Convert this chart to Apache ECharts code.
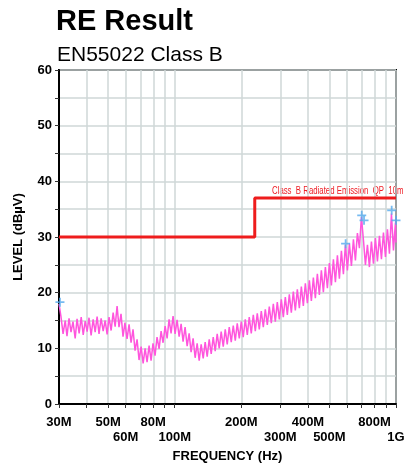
<!DOCTYPE html>
<html>
<head>
<meta charset="utf-8">
<script src="https://cdn.jsdelivr.net/npm/echarts@6/dist/echarts.min.js"></script>
<style>
  html, body { margin: 0; padding: 0; background: #fff; }
  #chart { width: 409px; height: 470px; }
</style>
</head>
<body>
<div id="chart"></div>
<script>
// frequencies in MHz, levels in dBuV
const traceFreq = [30, 30.6, 31.3, 32, 32.6, 33.3, 34, 34.7, 35.5, 36.2, 37, 37.8, 38.6, 39.4, 40.2, 41, 41.9, 42.8, 43.7, 44.6, 45.5, 46.5, 47.5, 48.5, 49.5,
  50.5, 51.6, 52.7, 53.8, 54.9, 56, 57.2, 58.4, 59.6, 60.9, 62.2, 63.5, 64.8, 66.2, 67.6, 69, 70.5, 72, 73.5, 75, 76.6, 78.2, 79.8, 81.5, 83.2, 85,
  86.8, 88.6, 90.5, 92.4, 94.3, 96.3, 98.3, 100.4, 102.5, 104.7, 106.9, 109.1, 111.4, 113.8, 116.2, 118.6, 121.1, 123.7, 126.3, 129, 131.7, 134.5,
  137.3, 140.2, 143.2, 146.2, 149.3, 152.4, 155.6, 158.9, 162.2, 165.7, 169.2, 172.7, 176.4, 180.1, 183.9, 187.8, 191.7, 195.8, 199.9, 204, 208.4,
  212.8, 217.2, 221.8, 226.5, 231.3, 236.1, 241.1, 246.2, 251.4, 256.7, 262.1, 267.6, 273.2, 279, 284.8, 290.8, 297, 303.2, 309.6, 316.1, 322.8,
  329.6, 336.5, 343.6, 350.8, 358.2, 365.8, 373.5, 381.3, 389.4, 397.6, 406, 414.5, 423.2, 432.1, 441.2, 450.5, 460, 469.7, 479.6, 489.7, 500,
  510.5, 521.3, 532.3, 543.5, 554.9, 566.6, 578.5, 590.7, 603.1, 615.8, 628.8, 642, 655.5, 669.3, 683.4, 697.8, 712.5, 727.5, 742.8, 758.4, 774.4,
  790.7, 807.3, 824.3, 841.7, 859.4, 877.5, 896, 914.8, 934.1, 953.7, 973.8, 994.3, 1000];
const traceLevel = [18.0, 15.8, 12.6, 15.0, 12.2, 15.4, 12.9, 14.8, 11.8, 15.3, 12.7, 15.6, 12.4, 14.9, 13.0, 15.5, 12.3, 15.2, 12.9, 15.7, 12.6, 15.4, 13.1, 15.0, 12.5,
  15.6, 13.2, 16.4, 13.9, 17.6, 13.8, 16.2, 12.1, 14.6, 11.7, 14.3, 11.0, 13.4, 9.6, 11.6, 7.9, 10.3, 7.3, 10.0, 7.5, 10.5, 7.8, 10.9, 8.7, 12.0, 9.9,
  13.1, 11.0, 14.0, 11.8, 15.2, 12.7, 15.8, 12.6, 15.1, 12.1, 14.4, 11.2, 13.8, 10.4, 12.7, 9.3, 11.8, 8.3, 10.9, 7.8, 10.7, 8.2,
  11.1, 8.5, 11.6, 9.0, 12.0, 9.5, 12.6, 10.0, 13.0, 10.3, 13.4, 10.7, 13.8, 11.1, 14.1, 11.4, 14.5, 11.8, 14.8, 12.0, 15.2,
  12.4, 15.6, 12.7, 16.0, 13.1, 16.3, 13.4, 16.7, 13.8, 17.0, 14.2, 17.5, 14.5, 18.0, 14.8, 18.3, 15.2, 18.8, 15.6, 19.2, 16.0,
  19.7, 16.4, 20.2, 16.8, 20.6, 17.2, 21.1, 17.6, 21.7, 18.1, 22.2, 18.5, 22.7, 19.0, 23.4, 19.6, 24.0, 20.1, 24.6, 20.8, 25.3,
  21.3, 26.0, 21.9, 26.7, 22.5, 27.5, 23.3, 28.6, 24.0, 28.8, 24.8, 29.6, 25.8, 30.7, 28.0, 33.6, 29.5, 25.0, 28.6, 24.6, 29.2,
  25.2, 29.8, 25.6, 30.2, 26.0, 30.8, 26.4, 31.4, 27.0, 34.2, 27.6, 32.6, 29.0];

const limitFreq = [30, 230, 230, 1000];
const limitLevel = [30, 30, 37, 37];

const peakFreq = [30.3, 592, 700, 717, 956, 1000];
const peakLevel = [18.3, 28.8, 33.9, 33.0, 34.8, 33.0];

const gridFreq = [30, 40, 50, 60, 70, 80, 90, 100, 200, 300, 400, 500, 600, 700, 800, 900, 1000];
const labelsTop = { 30: '30M', 50: '50M', 80: '80M', 200: '200M', 400: '400M', 800: '800M' };
const labelsBottom = { 60: '60M', 100: '100M', 300: '300M', 500: '500M', 1000: '1G' };

const lg = v => Math.log10(v);
const toPairs = (xs, ys) => xs.map((f, i) => [lg(f), ys[i]]);
const labelFreq = Object.keys(labelsTop).concat(Object.keys(labelsBottom)).map(Number);

const chart = echarts.init(document.getElementById('chart'));
chart.setOption({
  animation: false,
  backgroundColor: '#fff',
  textStyle: { fontFamily: 'Liberation Sans, Arial, sans-serif' },
  title: [
    { text: 'RE Result', left: 51, top: 2, textStyle: { fontSize: 29, fontWeight: 'bold', color: '#000' } },
    { text: 'EN55022 Class B', left: 52, top: 40, textStyle: { fontSize: 21, fontWeight: 'normal', color: '#000' } }
  ],
  grid: { left: 59, right: 13, top: 70, bottom: 66, show: true, borderColor: '#000', borderWidth: 2 },
  xAxis: {
    type: 'value',
    min: lg(30),
    max: 3,
    name: 'FREQUENCY (Hz)',
    nameLocation: 'middle',
    nameGap: 46,
    nameTextStyle: { fontSize: 13, fontWeight: 'bold', color: '#000' },
    axisLine: { show: true, lineStyle: { color: '#000', width: 2 } },
    axisTick: { show: true, inside: false, length: 4, customValues: gridFreq.map(lg), lineStyle: { color: '#333' } },
    axisLabel: {
      customValues: labelFreq.map(lg),
      margin: 11,
      fontSize: 13,
      fontWeight: 'bold',
      color: '#000',
      lineHeight: 15,
      formatter: v => {
        const f = Math.round(Math.pow(10, v));
        if (labelsTop[f]) return labelsTop[f];
        if (labelsBottom[f]) return '\n' + labelsBottom[f];
        return '';
      }
    },
    splitLine: { show: true, lineStyle: { color: '#cfd7d7', width: 1.5 } }
  },
  yAxis: {
    type: 'value',
    min: 0,
    max: 60,
    interval: 5,
    name: 'LEVEL (dBµV)',
    nameLocation: 'middle',
    nameGap: 34,
    nameTextStyle: { fontSize: 13, fontWeight: 'bold', color: '#000' },
    axisLine: { show: true, lineStyle: { color: '#000', width: 2 } },
    axisTick: { show: true, inside: false, length: 4, lineStyle: { color: '#333' } },
    axisLabel: {
      fontSize: 13,
      fontWeight: 'bold',
      color: '#000',
      margin: 7,
      formatter: v => (v % 10 === 0 ? String(v) : '')
    },
    splitLine: { show: true, lineStyle: { color: '#cfd7d7', width: 1.5 } }
  },
  graphic: [
    {
      type: 'text',
      x: 272,
      y: 185,
      scaleX: 0.71,
      style: {
        text: 'Class  B Radiated Emission  QP  10m',
        fill: '#ee1c24',
        font: '11px "Liberation Sans", sans-serif'
      }
    }
  ],
  series: [
    {
      name: 'trace',
      type: 'line',
      data: toPairs(traceFreq, traceLevel),
      showSymbol: false,
      lineStyle: { color: '#ff55dd', width: 1.5 },
      z: 2
    },
    {
      name: 'limit',
      type: 'line',
      data: toPairs(limitFreq, limitLevel),
      showSymbol: false,
      lineStyle: { color: '#ee1c1c', width: 3 },
      z: 3
    },
    {
      name: 'peaks',
      type: 'scatter',
      data: toPairs(peakFreq, peakLevel),
      symbol: 'path://M4,0h2v4h4v2h-4v4h-2v-4h-4v-2h4z',
      symbolSize: 9,
      clip: false,
      itemStyle: { color: '#55aaee' },
      z: 4
    }
  ]
});
</script>
</body>
</html>
